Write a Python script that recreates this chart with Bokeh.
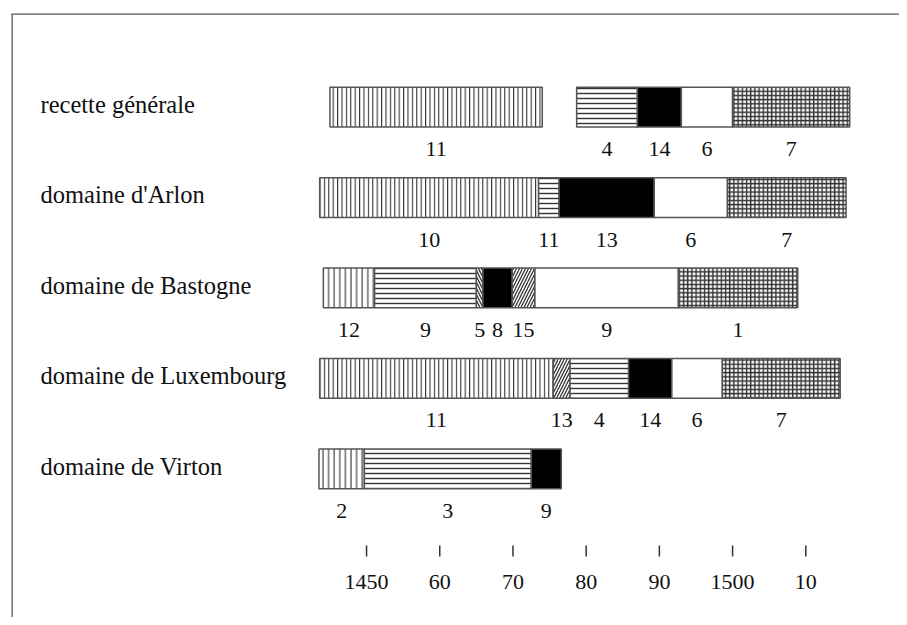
from bokeh.plotting import figure
from bokeh.models import ColumnDataSource, Range1d, Span
from bokeh.core.properties import value
from bokeh.embed import file_html
from bokeh.resources import INLINE

# ---- data -------------------------------------------------------------
rows = ["recette générale", "domaine d'Arlon", "domaine de Bastogne",
        "domaine de Luxembourg", "domaine de Virton"]

seg_row = [0, 0, 0, 0, 0,
           1, 1, 1, 1, 1,
           2, 2, 2, 2, 2, 2, 2,
           3, 3, 3, 3, 3, 3,
           4, 4, 4]
seg_start = [1445.0, 1478.7, 1487.0, 1493.0, 1500.0,
             1443.6, 1473.5, 1476.3, 1489.3, 1499.3,
             1444.1, 1451.1, 1465.0, 1465.9, 1469.9, 1473.0, 1492.6,
             1443.6, 1475.5, 1477.8, 1485.8, 1491.7, 1498.6,
             1443.5, 1449.7, 1472.5]
seg_end = [1474.0, 1487.0, 1493.0, 1500.0, 1516.0,
           1473.5, 1476.3, 1489.3, 1499.3, 1515.5,
           1451.1, 1465.0, 1465.9, 1469.9, 1473.0, 1492.6, 1508.9,
           1475.5, 1477.8, 1485.8, 1491.7, 1498.6, 1514.7,
           1449.7, 1472.5, 1476.6]
seg_label = ["11", "4", "14", "6", "7",
             "10", "11", "13", "6", "7",
             "12", "9", "5", "8", "15", "9", "1",
             "11", "13", "4", "14", "6", "7",
             "2", "3", "9"]
seg_kind = ["vfine", "horiz", "black", "white", "cross",
            "vfine", "horiz", "black", "white", "cross",
            "vwide", "horiz", "back", "black", "diag", "white", "cross",
            "vfine", "diag", "horiz", "black", "white", "cross",
            "vwide", "horiz", "black"]

tick_years = [1450, 1460, 1470, 1480, 1490, 1500, 1510]
tick_labels = ["1450", "60", "70", "80", "90", "1500", "10"]

# ---- styles -----------------------------------------------------------
kind_style = {
    "vfine": dict(pattern="|", fill="white", scale=4.4, weight=1.1),
    "vwide": dict(pattern="|", fill="white", scale=5.6, weight=1.1),
    "horiz": dict(pattern="-", fill="white", scale=5.0, weight=1.4),
    "black": dict(pattern=" ", fill="black", scale=5.0, weight=1.0),
    "white": dict(pattern=" ", fill="white", scale=5.0, weight=1.0),
    "cross": dict(pattern="+", fill="white", scale=4.2, weight=1.4),
    "diag":  dict(pattern="/", fill="white", scale=6.0, weight=1.3),
    "back":  dict(pattern="\\", fill="white", scale=6.0, weight=1.3),
}

seg_src = ColumnDataSource(dict(
    y=seg_row,
    left=seg_start,
    right=seg_end,
    mid=[(a + b) / 2 for a, b in zip(seg_start, seg_end)],
    ylab=[r + 0.465 for r in seg_row],
    label=seg_label,
    fill=[kind_style[k]["fill"] for k in seg_kind],
    pattern=[kind_style[k]["pattern"] for k in seg_kind],
    hscale=[kind_style[k]["scale"] for k in seg_kind],
    hweight=[kind_style[k]["weight"] for k in seg_kind],
))

X0, X1 = 1401.5, 1522.8
Y_TOP, Y_BOT = -1.036, 5.645

p = figure(width=899, height=617, output_backend="svg", toolbar_location=None,
           x_range=Range1d(X0, X1), y_range=Range1d(Y_BOT, Y_TOP),
           x_axis_location=None, y_axis_location=None,
           min_border_left=11, min_border_top=13, min_border_right=0,
           min_border_bottom=0)
p.outline_line_color = None
p.xgrid.visible = False
p.ygrid.visible = False
p.background_fill_color = "white"

# frame lines (left & top)
p.add_layout(Span(location=X0, dimension="height", line_color="#555555",
                  line_width=2.5))
p.add_layout(Span(location=Y_TOP, dimension="width", line_color="#555555",
                  line_width=2.5))

# bars
p.hbar(y="y", left="left", right="right", height=0.44, source=seg_src,
       fill_color="fill", line_color="#555555", line_width=1.5,
       hatch_pattern="pattern", hatch_scale="hscale", hatch_color="#333333",
       hatch_weight="hweight")

# segment numbers
p.text(x="mid", y="ylab", text="label", source=seg_src,
       text_font=value("Liberation Serif"), text_font_size="22px",
       text_color="#111111", text_align="center", text_baseline="middle")

# row labels
p.text(x=[X0 + 3.96] * len(rows), y=[i - 0.03 for i in range(len(rows))],
       text=rows, text_font=value("Liberation Serif"), text_font_size="24.5px",
       text_color="#111111", text_align="left", text_baseline="middle")

# year scale
p.segment(x0=tick_years, x1=tick_years, y0=[4.849] * len(tick_years),
          y1=[4.97] * len(tick_years), line_color="#333333", line_width=1.5)
p.text(x=tick_years, y=[5.25] * len(tick_years), text=tick_labels,
       text_font=value("Liberation Serif"), text_font_size="22px",
       text_color="#111111", text_align="center", text_baseline="middle")

open("out.html", "w").write(file_html(p, INLINE))
